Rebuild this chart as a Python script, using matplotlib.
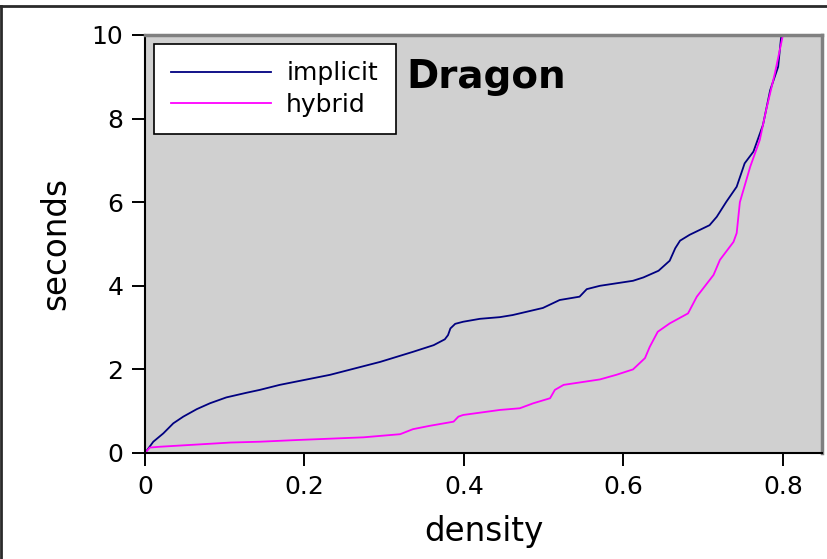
import matplotlib
matplotlib.use("Agg")
import matplotlib.pyplot as plt
from matplotlib.lines import Line2D

# density / seconds for each method
implicit_density = [0.0, 0.0104, 0.023, 0.0355, 0.048, 0.065, 0.0815, 0.102, 0.127, 0.144,
                    0.169, 0.232, 0.295, 0.336, 0.362, 0.376, 0.380, 0.383, 0.389, 0.399,
                    0.42, 0.445, 0.461, 0.499, 0.520, 0.545, 0.554, 0.5705, 0.612, 0.625,
                    0.644, 0.658, 0.665, 0.671, 0.683, 0.708, 0.717, 0.729, 0.742, 0.752,
                    0.763, 0.775, 0.784, 0.794, 0.798]
implicit_seconds = [0.0, 0.27, 0.47, 0.71, 0.87, 1.05, 1.19, 1.33, 1.44, 1.51,
                    1.63, 1.87, 2.18, 2.42, 2.58, 2.72, 2.82, 2.98, 3.09, 3.14,
                    3.21, 3.25, 3.30, 3.47, 3.66, 3.74, 3.92, 4.0, 4.12, 4.20,
                    4.36, 4.60, 4.90, 5.08, 5.22, 5.45, 5.65, 6.01, 6.37, 6.93,
                    7.21, 7.85, 8.68, 9.24, 10.0]

hybrid_density = [0.0, 0.006, 0.019, 0.107, 0.144, 0.19, 0.274, 0.32, 0.336, 0.357,
                  0.387, 0.393, 0.399, 0.445, 0.470, 0.487, 0.508, 0.514, 0.525, 0.5705,
                  0.591, 0.612, 0.627, 0.633, 0.643, 0.658, 0.681, 0.692, 0.713, 0.721,
                  0.738, 0.742, 0.746, 0.759, 0.771, 0.779, 0.790, 0.800]
hybrid_seconds = [0.0, 0.13, 0.15, 0.25, 0.27, 0.31, 0.375, 0.45, 0.57, 0.65,
                  0.75, 0.87, 0.91, 1.03, 1.07, 1.19, 1.31, 1.51, 1.63, 1.76,
                  1.87, 2.0, 2.27, 2.54, 2.90, 3.10, 3.34, 3.74, 4.26, 4.62,
                  5.05, 5.26, 6.0, 6.85, 7.49, 8.21, 9.09, 10.0]

x_ticks = [0, 0.2, 0.4, 0.6, 0.8]
x_tick_labels = ["0", "0.2", "0.4", "0.6", "0.8"]
y_ticks = [0, 2, 4, 6, 8, 10]
y_tick_labels = ["0", "2", "4", "6", "8", "10"]

plt.rcParams['font.family'] = ['DejaVu Sans']

fig = plt.figure(figsize=(8.27, 5.59), dpi=100)
ax = fig.add_axes([145/827, 1-453/559, (822-145)/827, (453-35)/559])
ax.set_facecolor('#d0d0d0')

ax.plot(implicit_density, implicit_seconds, color='#000080', lw=1.3, label='implicit')
ax.plot(hybrid_density, hybrid_seconds, color='#ff00ff', lw=1.3, label='hybrid')

ax.set_xlim(0, 0.849)
ax.set_ylim(0, 10)
ax.set_xticks(x_ticks)
ax.set_xticklabels(x_tick_labels)
ax.set_yticks(y_ticks)
ax.set_yticklabels(y_tick_labels)
ax.tick_params(direction='out', length=9.5, width=1.4, labelsize=18, pad=6, colors='black')

for s in ['left', 'bottom']:
    ax.spines[s].set_color('black')
    ax.spines[s].set_linewidth(1.5)
for s in ['top', 'right']:
    ax.spines[s].set_color('#808080')
    ax.spines[s].set_linewidth(2.5)

ax.set_xlabel('density', fontsize=23.5, labelpad=12)
ax.set_ylabel('seconds', fontsize=23.5, labelpad=14)

ax.text((406-145)/677, (453-88)/418, 'Dragon', transform=ax.transAxes,
        fontsize=28, fontweight='bold', ha='left', va='baseline')

leg = ax.legend(loc='upper left', fontsize=18, frameon=True, fancybox=False,
                edgecolor='black', framealpha=1, handlelength=4.0,
                borderaxespad=0.35, labelspacing=0.3, borderpad=0.7,
                handletextpad=0.6)
leg.get_frame().set_linewidth(1.2)

# figure border lines (top, left)
fig.add_artist(Line2D([0, 1], [1-5.5/559, 1-5.5/559], transform=fig.transFigure,
                      color='#2a2a2a', lw=2))
fig.add_artist(Line2D([1.2/827, 1.2/827], [0, 1-5.5/559], transform=fig.transFigure,
                      color='#2a2a2a', lw=2))

fig.savefig('out.png', dpi=100)
